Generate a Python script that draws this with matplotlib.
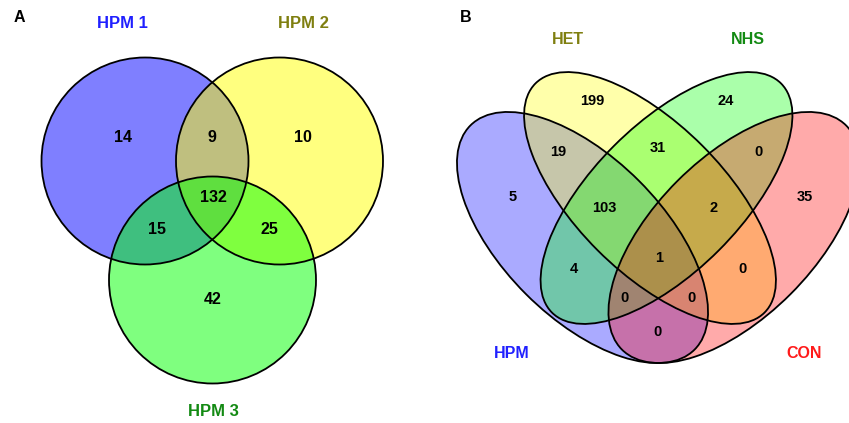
import matplotlib
matplotlib.use('Agg')
import matplotlib.pyplot as plt
from matplotlib.patches import Circle, Ellipse

# panel A: three HPM sets
setsA = ['HPM 1', 'HPM 2', 'HPM 3']
fillA = ['#0000ff', '#ffff00', '#00ff00']
textA = ['#2020ff', '#7f7f10', '#138a13']
# 1 only, 2 only, 3 only, 1&2, 1&3, 2&3, all
countsA = [14, 10, 42, 9, 15, 25, 132]

# panel B: four groups
setsB = ['HPM', 'HET', 'NHS', 'CON']
fillB = ['#0000ff', '#ffff00', '#00ff00', '#ff0000']
textB = ['#2020ff', '#7f7f10', '#138a13', '#ff1a1a']
# HET, NHS, HPM&HET, HET&NHS, NHS&CON, HPM, HPM&HET&NHS, HET&NHS&CON, CON,
# all, HPM&NHS, HET&CON, HPM&HET&CON, HPM&NHS&CON, HPM&CON
countsB = [199, 24, 19, 31, 0, 5, 103, 2, 35, 1, 4, 0, 0, 0, 0]

# layout (pixel space)
circA = [(145, 161), (279.5, 161), (212.5, 280)]
radA = 103.5
labA = [(122, 24), (303, 24), (213, 412)]
numA = [(123, 138), (303, 138), (213, 299), (212, 138), (157, 230), (269, 230), (213, 198)]

ellB = [((582.5, 237.5), 158.5, 80, 45), ((650, 198), 162, 74, 45),
        ((666.5, 198), 162, 74, -45), ((734, 237.5), 158.5, 80, -45)]
labB = [(512, 354), (568, 39), (748, 39), (804, 354)]
numB = [(592, 101), (726, 101), (558, 152), (658, 148), (759, 152), (513, 197),
        (604, 208), (714, 208), (805, 197), (659, 258), (574, 269), (743, 269),
        (625, 298), (692, 298), (658, 332)]

plt.rcParams['font.family'] = ['Liberation Sans', 'DejaVu Sans']

fig = plt.figure(figsize=(8.49, 4.23), dpi=100)
ax = fig.add_axes([0, 0, 1, 1])
ax.set_xlim(0, 849)
ax.set_ylim(423, 0)
ax.axis('off')

for (x, y), c in zip(circA, fillA):
    ax.add_patch(Circle((x, y), radA, facecolor=c, alpha=0.5, edgecolor='none'))
for (x, y) in circA:
    ax.add_patch(Circle((x, y), radA, facecolor='none', edgecolor='black', lw=1.3))
for name, col, (x, y) in zip(setsA, textA, labA):
    ax.text(x, y, name, color=col, fontsize=12, fontweight='bold', ha='center', va='center')
for n, (x, y) in zip(countsA, numA):
    ax.text(x, y, str(n), fontsize=11.5, fontweight='bold', ha='center', va='center')

for (ctr, a, b, ang), c in zip(ellB, fillB):
    ax.add_patch(Ellipse(ctr, 2 * a, 2 * b, angle=ang, facecolor=c, alpha=1 / 3, edgecolor='none'))
for (ctr, a, b, ang) in ellB:
    ax.add_patch(Ellipse(ctr, 2 * a, 2 * b, angle=ang, facecolor='none', edgecolor='black', lw=1.3))
for name, col, (x, y) in zip(setsB, textB, labB):
    ax.text(x, y, name, color=col, fontsize=11.5, fontweight='bold', ha='center', va='center')
for n, (x, y) in zip(countsB, numB):
    ax.text(x, y, str(n), fontsize=10.5, fontweight='bold', ha='center', va='center')

ax.text(19, 17, 'A', fontsize=11.5, fontweight='bold', ha='center', va='center')
ax.text(466, 17, 'B', fontsize=11.5, fontweight='bold', ha='center', va='center')

fig.savefig('out.png', dpi=100)
